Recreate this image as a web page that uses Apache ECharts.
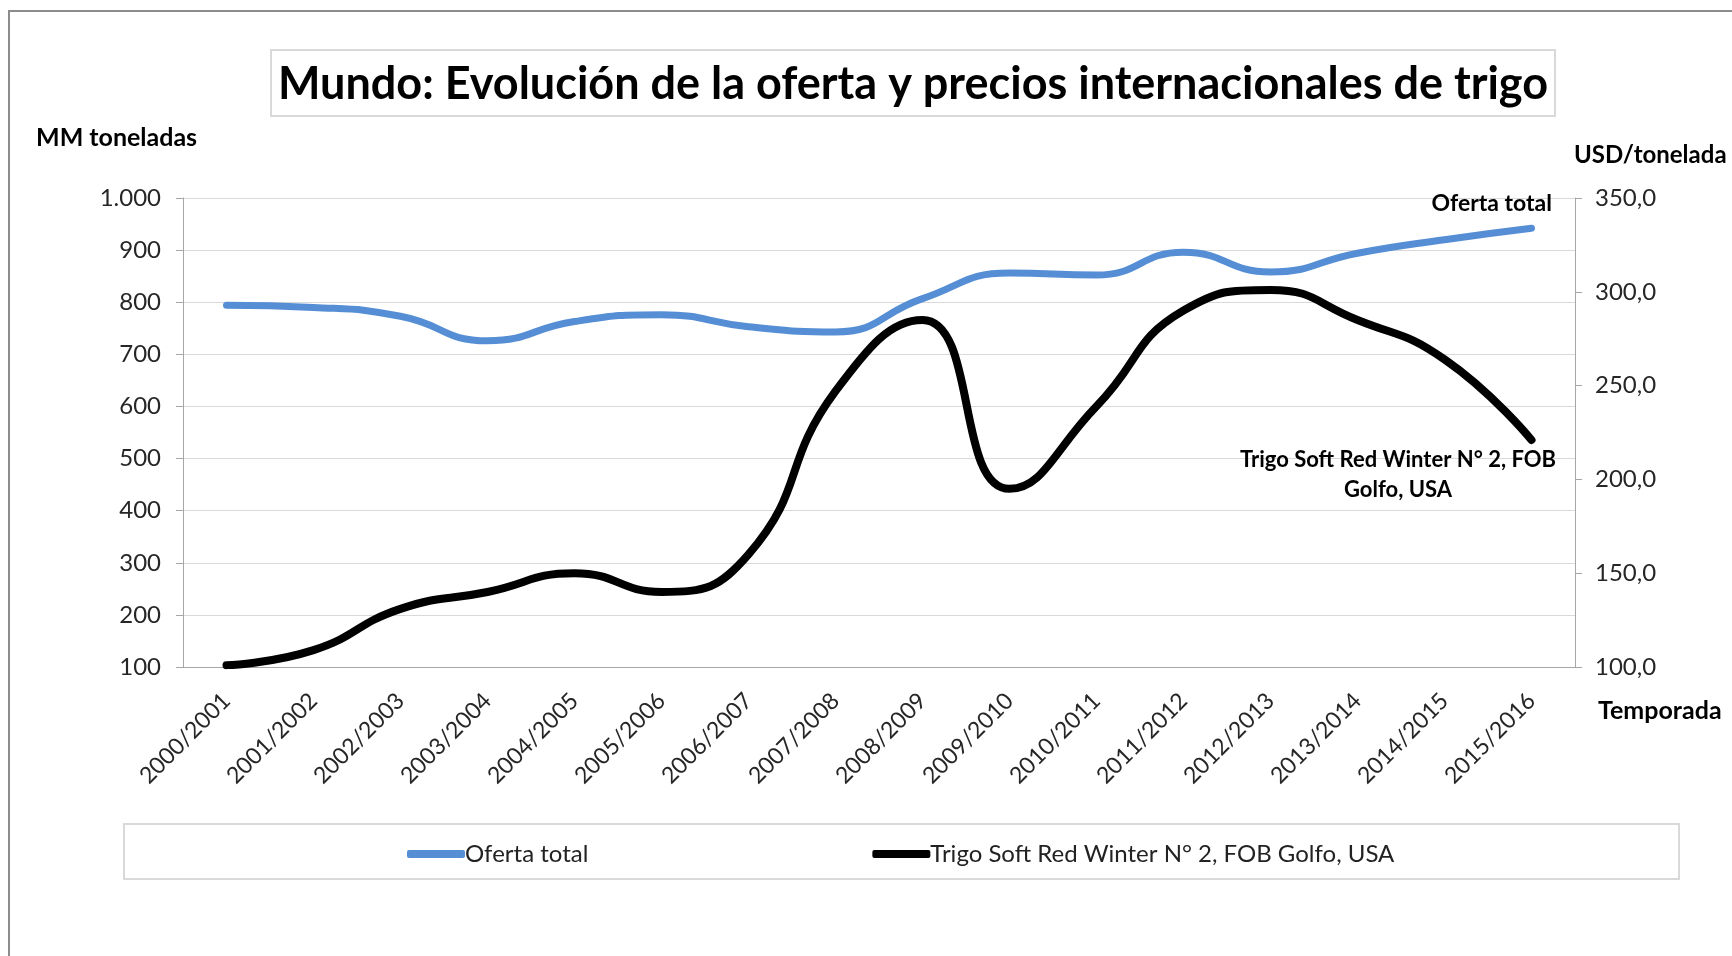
<!DOCTYPE html>
<html>
<head>
<meta charset="utf-8">
<script src="https://cdn.jsdelivr.net/npm/echarts@6/dist/echarts.min.js"></script>
<style>
  html, body { margin: 0; padding: 0; background: #fff; }
  #chart { width: 1732px; height: 956px; }
</style>
</head>
<body>
<div id="chart"></div>
<script>
// temporadas
const seasons = ['2000/2001', '2001/2002', '2002/2003', '2003/2004', '2004/2005', '2005/2006',
  '2006/2007', '2007/2008', '2008/2009', '2009/2010', '2010/2011', '2011/2012',
  '2012/2013', '2013/2014', '2014/2015', '2015/2016'];
// MM toneladas
const oferta = [794, 790, 773, 726, 763, 776, 753, 743, 807, 856, 852, 896, 858, 894, 920, 942];
// USD/tonelada
const trigo = [101, 109, 131, 140, 150, 140, 160, 247, 285, 195, 239, 290, 301, 285, 264, 221];

const font = 'Lato, "Open Sans", sans-serif';
const chart = echarts.init(document.getElementById('chart'));

const option = {
  backgroundColor: '#fff',
  animation: false,
  textStyle: { fontFamily: font },
  grid: { left: 183, right: 157, top: 198, height: 469 },
  legend: {
    left: 402,
    top: 837,
    itemGap: 284,
    itemWidth: 58,
    itemHeight: 8,
    icon: 'roundRect',
    textStyle: { fontSize: 24, color: '#222', fontFamily: font, padding: [0, 0, 0, -5] },
    data: ['Oferta total', 'Trigo Soft Red Winter N° 2, FOB Golfo, USA']
  },
  xAxis: {
    type: 'category',
    data: seasons,
    axisLine: { lineStyle: { color: '#a6a6a6' } },
    axisTick: { length: 9, lineStyle: { color: '#a6a6a6' } },
    axisLabel: { rotate: 45, fontSize: 23, color: '#262626', margin: 30 }
  },
  yAxis: [
    {
      type: 'value', min: 100, max: 1000, interval: 100,
      axisLine: { show: true, lineStyle: { color: '#a6a6a6' } },
      axisTick: { show: true, length: 7, lineStyle: { color: '#a6a6a6' } },
      splitLine: { lineStyle: { color: '#d9d9d9' } },
      axisLabel: {
        fontSize: 24, color: '#262626', margin: 22,
        formatter: v => v.toString().replace(/\B(?=(\d{3})+(?!\d))/g, '.')
      }
    },
    {
      type: 'value', min: 100, max: 350, interval: 50,
      axisLine: { show: true, lineStyle: { color: '#a6a6a6' } },
      axisTick: { show: true, length: 7, lineStyle: { color: '#a6a6a6' } },
      splitLine: { show: false },
      axisLabel: {
        fontSize: 24, color: '#262626', margin: 20,
        formatter: v => v.toFixed(1).replace('.', ',')
      }
    }
  ],
  series: [
    {
      name: 'Oferta total',
      type: 'line',
      yAxisIndex: 0,
      smooth: 0.5,
      symbol: 'none',
      data: oferta,
      itemStyle: { color: '#558ED5' },
      lineStyle: { color: '#558ED5', width: 7, cap: 'round', join: 'round' }
    },
    {
      name: 'Trigo Soft Red Winter N° 2, FOB Golfo, USA',
      type: 'line',
      yAxisIndex: 1,
      smooth: 0.5,
      symbol: 'none',
      data: trigo,
      itemStyle: { color: '#000' },
      lineStyle: { color: '#000', width: 8, cap: 'round', join: 'round' }
    }
  ],
  graphic: [
    // marco exterior
    { type: 'rect', z: 100, shape: { x: 9, y: 11, width: 1800, height: 1000 },
      style: { fill: 'none', stroke: '#8c8c8c', lineWidth: 2 } },
    // caja del titulo
    { type: 'rect', z: 100, shape: { x: 271, y: 50, width: 1284, height: 66 },
      style: { fill: '#fff', stroke: '#d9d9d9', lineWidth: 2 } },
    { type: 'text', z: 101, x: 913, y: 84,
      style: { text: 'Mundo: Evolución de la oferta y precios internacionales de trigo',
        font: 'bold 45px ' + font, fill: '#000', align: 'center', verticalAlign: 'middle' } },
    // caja de la leyenda
    { type: 'rect', z: -1, shape: { x: 124, y: 824, width: 1555, height: 55 },
      style: { fill: 'none', stroke: '#d9d9d9', lineWidth: 2 } },
    { type: 'text', z: 100, x: 36, y: 138,
      style: { text: 'MM toneladas', font: 'bold 25px ' + font, fill: '#000', verticalAlign: 'middle' } },
    { type: 'text', z: 100, x: 1574, y: 155,
      style: { text: 'USD/tonelada', font: 'bold 24px ' + font, fill: '#000', verticalAlign: 'middle' } },
    { type: 'text', z: 100, x: 1598, y: 711,
      style: { text: 'Temporada', font: 'bold 25px ' + font, fill: '#000', verticalAlign: 'middle' } },
    { type: 'text', z: 100, x: 1552, y: 204,
      style: { text: 'Oferta total', font: 'bold 23px ' + font, fill: '#000', align: 'right', verticalAlign: 'middle' } },
    { type: 'text', z: 100, x: 1398, y: 475,
      style: { text: 'Trigo Soft Red Winter N° 2, FOB\nGolfo, USA', font: 'bold 22px ' + font,
        lineHeight: 30, fill: '#000', align: 'center', verticalAlign: 'middle' } }
  ]
};

chart.setOption(option);
</script>
</body>
</html>
